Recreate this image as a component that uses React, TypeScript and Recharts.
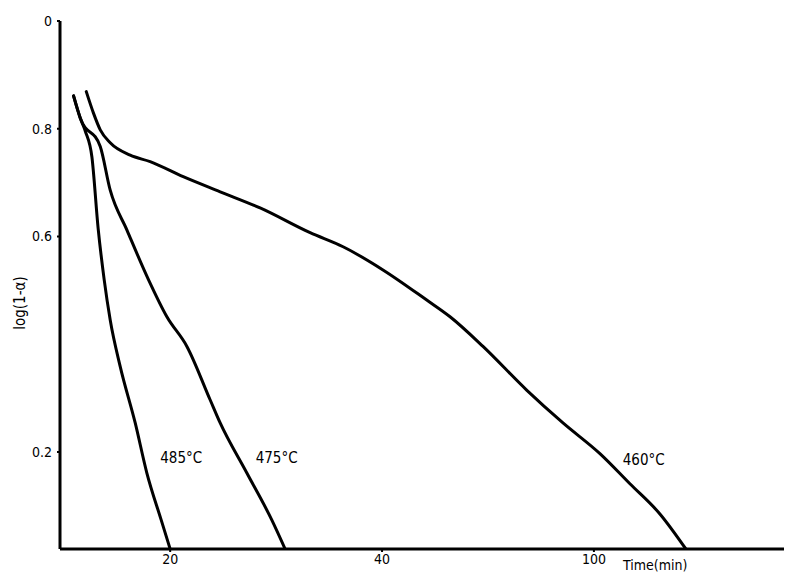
import React from 'react';
import { LineChart, Line, XAxis, YAxis, ReferenceDot, Label } from 'recharts';

// time (min) vs log(1-α)
const series485 = [
  { t: 10.88, y: 0.861 }, { t: 11.51, y: 0.82 }, { t: 12.0, y: 0.795 }, { t: 12.61, y: 0.748 },
  { t: 13.2, y: 0.615 }, { t: 13.77, y: 0.52 }, { t: 14.34, y: 0.445 }, { t: 15.28, y: 0.359 },
  { t: 16.7, y: 0.254 }, { t: 17.8, y: 0.161 }, { t: 19.15, y: 0.074 },
  { t: 20.0, y: 0.02 },
];
const series475 = [
  { t: 10.88, y: 0.861 }, { t: 11.51, y: 0.82 }, { t: 13.4, y: 0.767 }, { t: 14.34, y: 0.686 },
  { t: 15.92, y: 0.612 }, { t: 17.95, y: 0.52 }, { t: 19.69, y: 0.451 }, { t: 21.58, y: 0.396 },
  { t: 23.77, y: 0.297 }, { t: 24.72, y: 0.254 }, { t: 27.24, y: 0.161 }, { t: 29.59, y: 0.074 },
  { t: 30.85, y: 0.02 },
];
const series460 = [
  { t: 12.08, y: 0.869 }, { t: 12.76, y: 0.829 }, { t: 13.4, y: 0.798 }, { t: 14.34, y: 0.774 },
  { t: 16.23, y: 0.751 }, { t: 18.11, y: 0.739 }, { t: 21.23, y: 0.711 }, { t: 24.72, y: 0.683 },
  { t: 28.49, y: 0.653 }, { t: 33.21, y: 0.607 }, { t: 36.32, y: 0.581 }, { t: 40.09, y: 0.538 },
  { t: 44.22, y: 0.482 }, { t: 46.42, y: 0.451 }, { t: 49.53, y: 0.396 }, { t: 53.65, y: 0.315 },
  { t: 57.08, y: 0.254 }, { t: 60.57, y: 0.197 }, { t: 63.4, y: 0.141 }, { t: 66.23, y: 0.085 },
  { t: 68.68, y: 0.02 },
];

const xTicks = [20, 40, 60];
const xTickLabels = ['20', '40', '100'];
const yTicks = [1.0, 0.8, 0.6, 0.2];
const yTickLabels = ['0', '0.8', '0.6', '0.2'];

const curveLabels = [
  { t: 21.04, y: 0.189, text: '485°C' },
  { t: 30.05, y: 0.189, text: '475°C' },
  { t: 64.7, y: 0.186, text: '460°C' },
];

const FONT = '"DejaVu Sans Condensed", "DejaVu Sans", sans-serif';

const TimeLabel = (props: any) => {
  const vb = props.viewBox || {};
  return (
    <text x={vb.x + 563} y={vb.y + 21} fontFamily={FONT} fontSize={14} fill="#000">
      Time(min)
    </text>
  );
};

const YLabel = (props: any) => {
  const vb = props.viewBox || {};
  const cx = vb.x + 12;
  const cy = vb.y + 282;
  return (
    <text
      x={cx}
      y={cy}
      transform={`rotate(-90 ${cx} ${cy})`}
      textAnchor="middle"
      dominantBaseline="central"
      fontFamily={FONT}
      fontSize={15}
      fill="#000"
    >
      log(1-α)
    </text>
  );
};

export default function App() {
  return (
    <div style={{ width: 784, height: 568, background: '#fff' }}>
      <LineChart width={784} height={568} margin={{ top: 13, right: 0, bottom: 7, left: 0 }}>
        <XAxis
          type="number"
          dataKey="t"
          domain={[9.6, 78.7]}
          ticks={xTicks}
          tickFormatter={(v: number) => xTickLabels[xTicks.indexOf(v)] ?? String(v)}
          allowDataOverflow
          height={20}
          axisLine={{ stroke: '#000', strokeWidth: 3 }}
          tickLine={{ stroke: '#000', strokeWidth: 2 }}
          tickSize={3}
          tickMargin={2}
          tick={{ fill: '#000', fontFamily: FONT, fontSize: 14 }}
          label={<Label content={TimeLabel} />}
        />
        <YAxis
          type="number"
          dataKey="y"
          domain={[0.02, 1.0]}
          ticks={yTicks}
          tickFormatter={(v: number) => yTickLabels[yTicks.indexOf(v)] ?? String(v)}
          allowDataOverflow
          width={52}
          axisLine={{ stroke: '#000', strokeWidth: 3 }}
          tickLine={{ stroke: '#000', strokeWidth: 2 }}
          tickSize={3}
          tickMargin={5}
          tick={{ fill: '#000', fontFamily: FONT, fontSize: 14 }}
          label={<Label content={YLabel} />}
        />
        <Line data={series485} dataKey="y" type="monotone" stroke="#000" strokeWidth={3} dot={false} isAnimationActive={false} strokeLinecap="round" />
        <Line data={series475} dataKey="y" type="monotone" stroke="#000" strokeWidth={3} dot={false} isAnimationActive={false} strokeLinecap="round" />
        <Line data={series460} dataKey="y" type="monotone" stroke="#000" strokeWidth={3} dot={false} isAnimationActive={false} strokeLinecap="round" />
        {curveLabels.map((c) => (
          <ReferenceDot
            key={c.text}
            x={c.t}
            y={c.y}
            r={0}
            fill="none"
            stroke="none"
            label={{ value: c.text, position: 'center', fill: '#000', fontFamily: FONT, fontSize: 15 }}
          />
        ))}
      </LineChart>
    </div>
  );
}
